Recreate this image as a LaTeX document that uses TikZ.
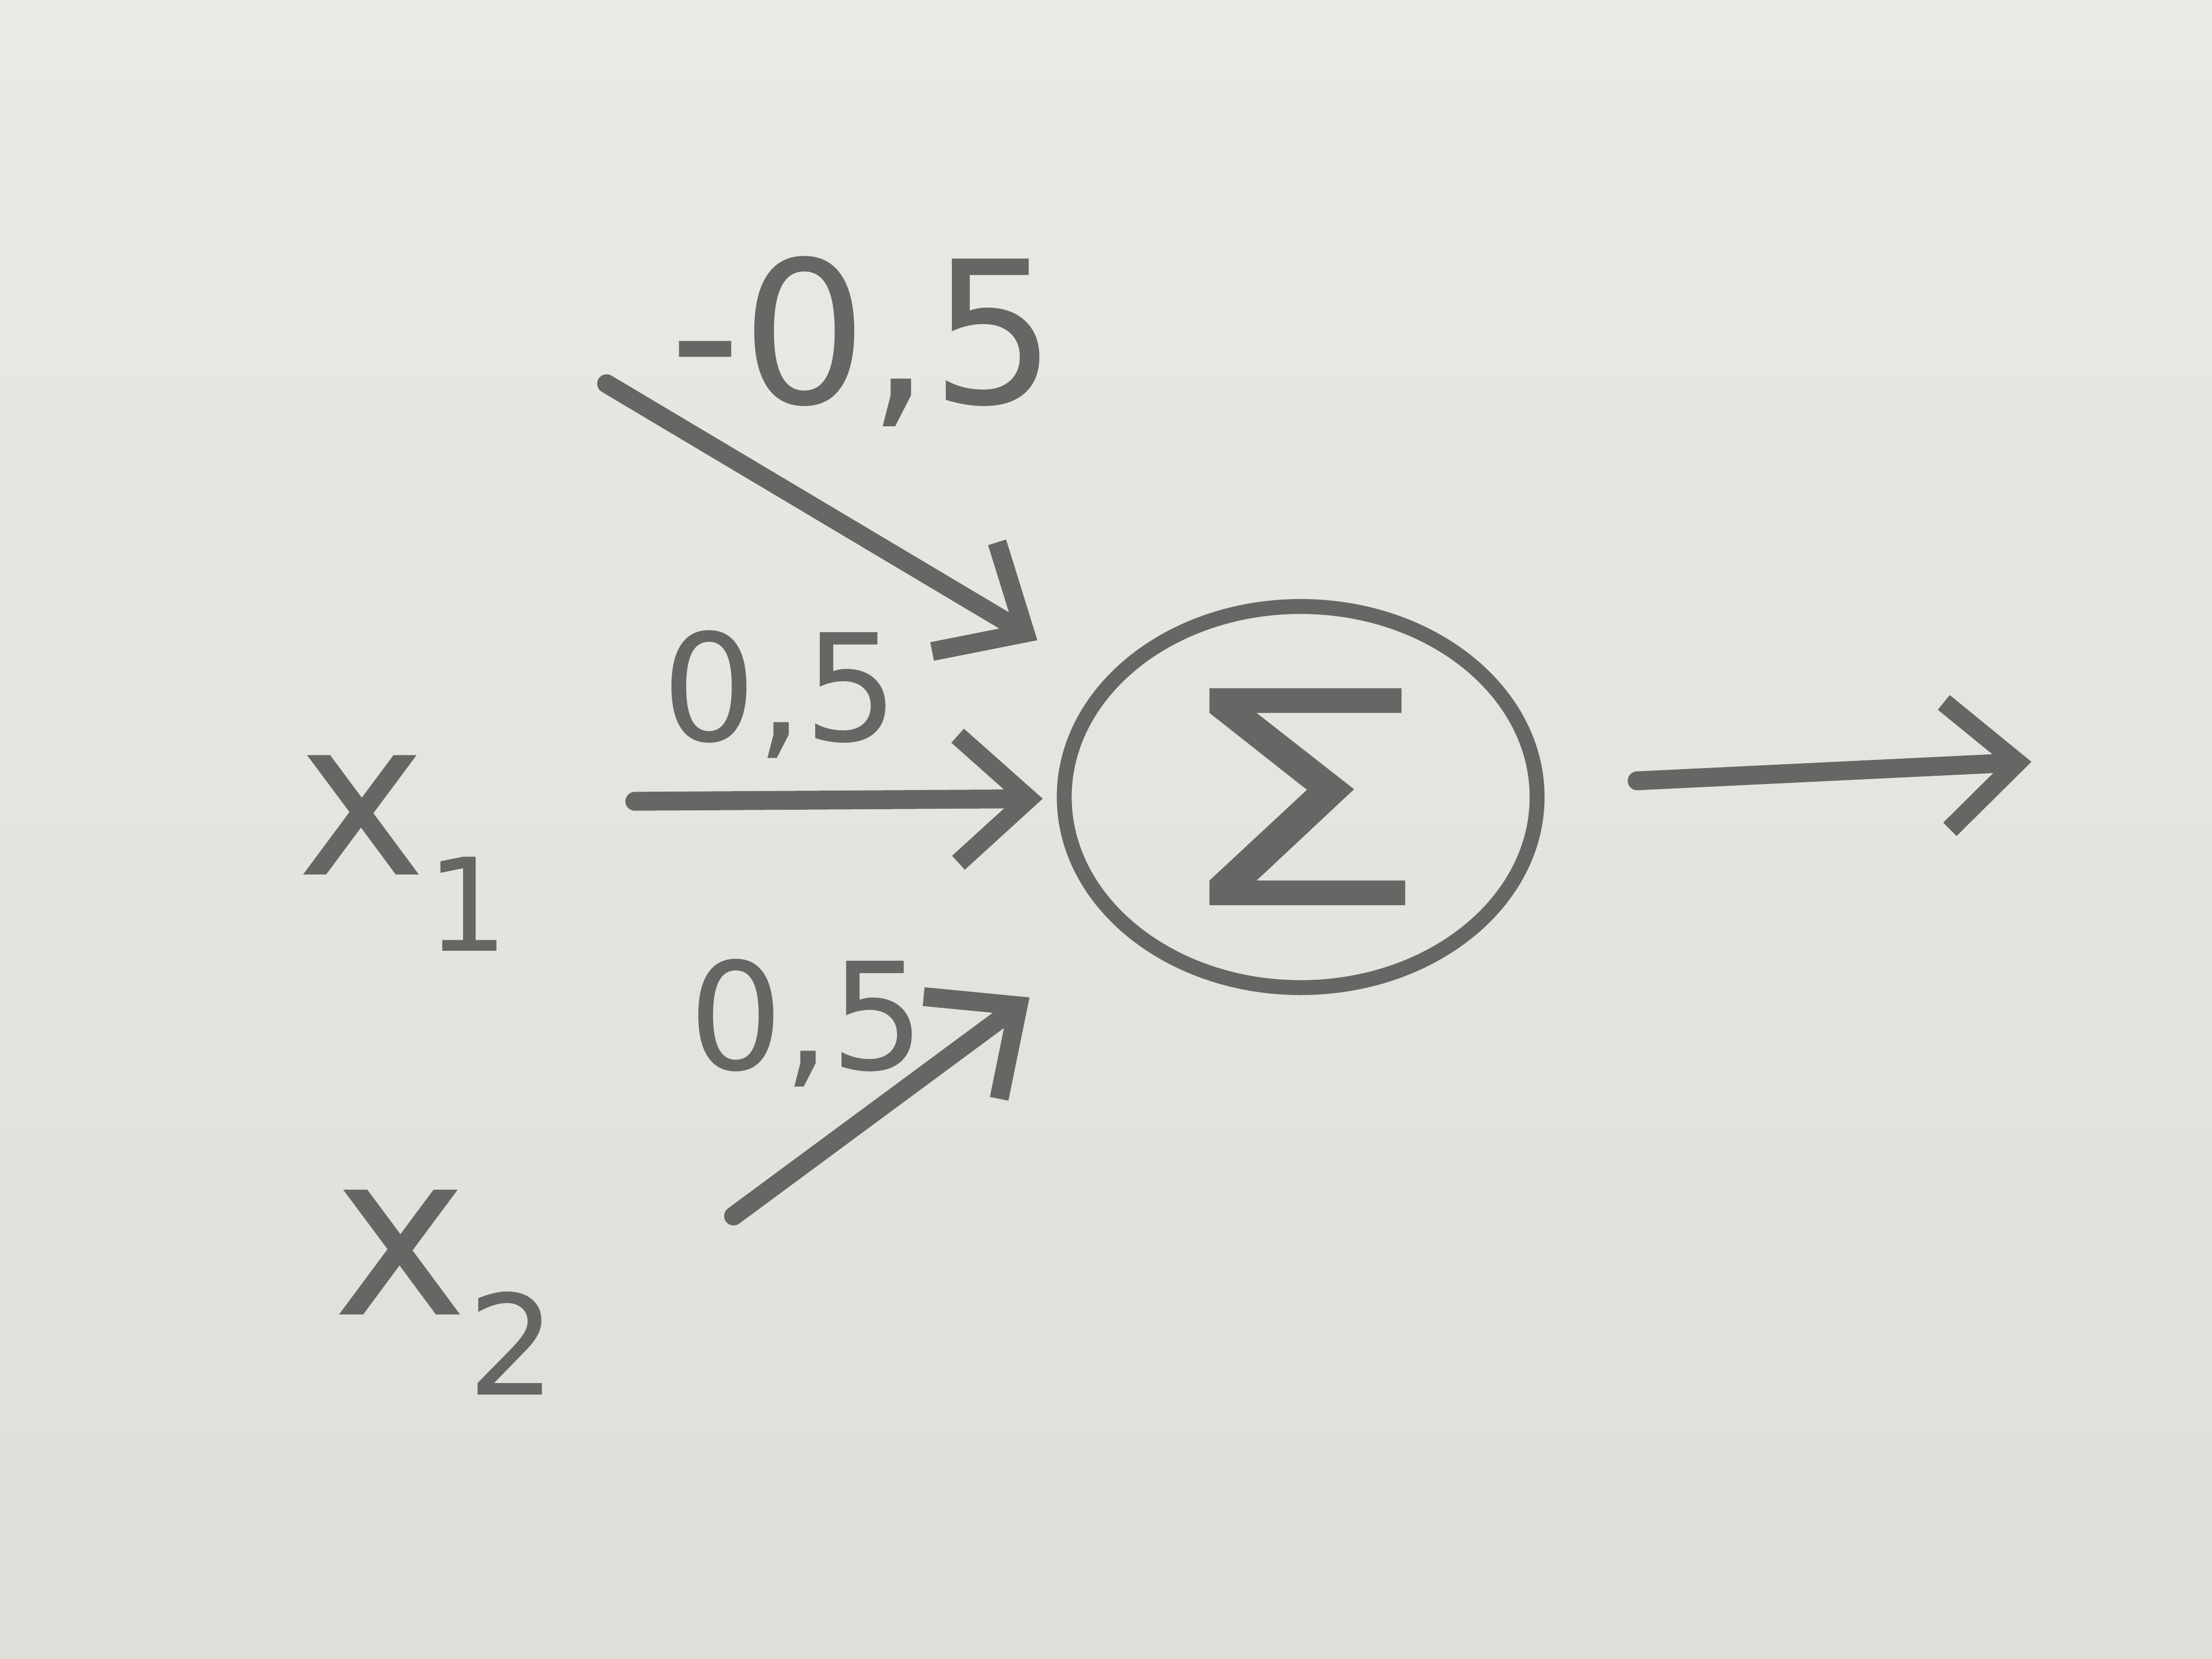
\documentclass[tikz,border=0pt]{standalone}
\usepackage{fontspec}
\setmainfont{DejaVu Sans}
\usetikzlibrary{arrows.meta,shapes.geometric,calc}
\definecolor{papertop}{RGB}{234,233,229}
\definecolor{paperbot}{RGB}{224,222,217}
\definecolor{pencil}{RGB}{102,102,100}
\begin{document}
\begin{tikzpicture}[x=0.01cm,y=-0.01cm,
  pen/.style={draw=pencil,line width=3.8pt,line cap=round,line join=round},
  arr/.style={pen,-{Straight Barb[length=0.5cm,width=0.9cm,line width=3.8pt]}},
  lbl/.style={text=pencil,inner sep=0pt},
]
\shade[top color=papertop,bottom color=paperbot] (0,0) rectangle (1568,1176);
\useasboundingbox (0,0) rectangle (1568,1176);

% summation unit
\node[ellipse, draw=pencil, line width=3pt, minimum width=3.35cm,
      minimum height=2.7cm, inner sep=0pt, text=pencil,
      font=\fontsize{60}{60}\selectfont] (sum) at (922,565)
      {\raisebox{-0.12em}{\scalebox{1.4}[1]{Σ}}};

% free ends of the connectors
\coordinate (a) at (430,272);
\coordinate (b) at (450,568);
\coordinate (c) at (520,862);
\coordinate (out) at (1440,540);

\draw[arr, shorten >=0.55cm] (a) -- (sum);
\draw[arr, shorten >=0.1cm] (b) -- (sum);
\draw[arr, shorten >=0.8cm] (c) -- (sum);
\draw[arr, shorten <=0.66cm] (sum) -- (out);

% weights
\node[lbl, font=\fontsize{40}{40}\selectfont] (w1) at (612,242) {-0,5};
\node[lbl, font=\fontsize{30}{30}\selectfont] (w2) at (553,492) {0,5};
\node[lbl, font=\fontsize{30}{30}\selectfont] (w3) at (572,725) {0,5};

% inputs
\node[lbl, anchor=base west, font=\fontsize{44}{44}\selectfont] (x1) at (210,620)
  {x\raisebox{-0.35em}{\fontsize{26}{26}\selectfont 1}};
\node[lbl, anchor=base west, font=\fontsize{46}{46}\selectfont] (x2) at (235,932)
  {x\raisebox{-0.35em}{\fontsize{28}{28}\selectfont 2}};
\end{tikzpicture}
\end{document}
